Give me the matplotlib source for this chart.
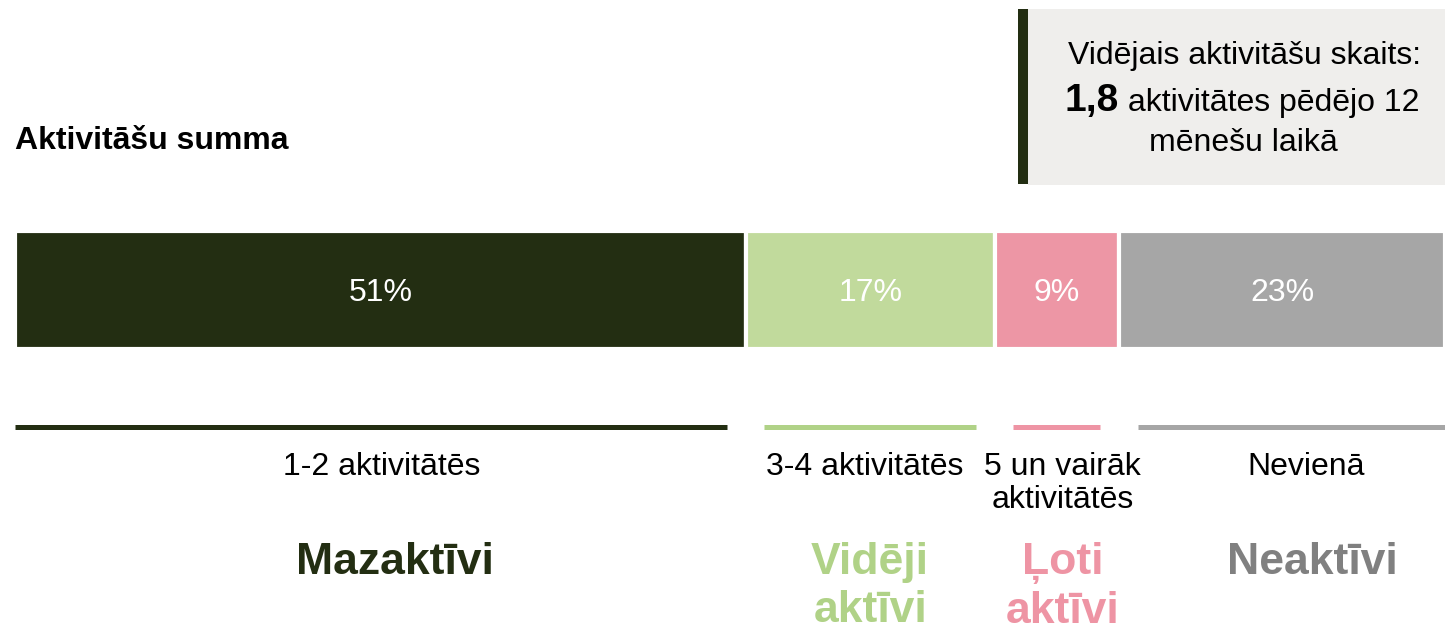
import matplotlib

matplotlib.use("Agg")
import matplotlib.pyplot as plt
import numpy as np
from matplotlib.patches import Rectangle

# data
shares = [51.1, 17.4, 8.7, 22.8]
categories = ["1-2 aktivitātēs", "3-4 aktivitātēs", "5 un vairāk\naktivitātēs", "Nevienā"]
groups = ["Mazaktīvi", "Vidēji\naktīvi", "Ļoti\naktīvi", "Neaktīvi"]
avg_count = "1,8"
title = "Aktivitāšu summa"

bar_colors = ["#232e12", "#c1da9c", "#ed96a5", "#a6a6a6"]
line_colors = ["#232e12", "#b0d287", "#ee94a4", "#a6a6a6"]
group_colors = ["#232e12", "#b0d287", "#ee94a4", "#808080"]
label_shift = [0.1, -0.4, 0.4, 1.7]
group_shift = [1.0, 0.0, 0.4, 2.1]

W, H = 1445, 627
plt.rcParams["font.family"] = ["Liberation Sans", "DejaVu Sans"]
NARROW = ["Liberation Sans Narrow", "Liberation Sans", "DejaVu Sans"]

fig = plt.figure(figsize=(W / 100, H / 100), dpi=100)
ax = fig.add_axes([15 / W, 0, 1 - 15 / W, 1])
ax.set_xlim(0, 100)
ax.set_ylim(H, 0)
ax.axis("off")

lefts = np.concatenate([[0], np.cumsum(shares)[:-1]])
rights = lefts + np.array(shares)
centers = (lefts + rights) / 2

ax.barh(289.5, shares, left=lefts, height=118, color=bar_colors, edgecolor="white", linewidth=3)
for c, v in zip(centers, shares):
    ax.text(c, 293, f"{round(v)}%", ha="center", va="center", color="white", fontsize=23)

inset = 1.3
for i, (l, r) in enumerate(zip(lefts, rights)):
    x0 = l + inset if l > 0 else 0
    x1 = r - inset if r < 99.9 else 100
    ax.hlines(427, x0, x1, color=line_colors[i], linewidth=3.6)
    ax.text(centers[i] + label_shift[i], 452, categories[i], ha="center", va="top", fontsize=23,
            family=NARROW, linespacing=1.12, color="black")
    ax.text(centers[i] + group_shift[i], 542, groups[i], ha="center", va="top", fontsize=32,
            fontweight="bold", family=NARROW, linespacing=1.22, color=group_colors[i])

# title
fig.text(15 / W, 1 - 141 / H, title, ha="left", va="center", fontsize=23, fontweight="bold")

# info box
fig.add_artist(Rectangle((1028 / W, 1 - 185 / H), (W - 1028) / W, 176 / H,
                         transform=fig.transFigure, facecolor="#efeeec", edgecolor="none"))
fig.add_artist(Rectangle((1018 / W, 1 - 184 / H), 10 / W, 175 / H,
                         transform=fig.transFigure, facecolor="#232e12", edgecolor="none"))
fig.text(1244 / W, 1 - 56 / H, "Vidējais aktivitāšu skaits:", ha="center", va="center", fontsize=23)
fig.text(1243 / W, 1 - 143 / H, "mēnešu laikā", ha="center", va="center", fontsize=23)

renderer = fig.canvas.get_renderer()
t_bold = fig.text(0, 0, avg_count, ha="left", va="baseline", fontsize=28, fontweight="bold")
t_rest = fig.text(0, 0, " aktivitātes pēdējo 12", ha="left", va="baseline", fontsize=23)
wb = t_bold.get_window_extent(renderer).width
wr = t_rest.get_window_extent(renderer).width
x_start = 1242 - (wb + wr) / 2
t_bold.set_position((x_start / W, 1 - 111 / H))
t_rest.set_position(((x_start + wb) / W, 1 - 111 / H))

fig.savefig("out.png", dpi=100)
